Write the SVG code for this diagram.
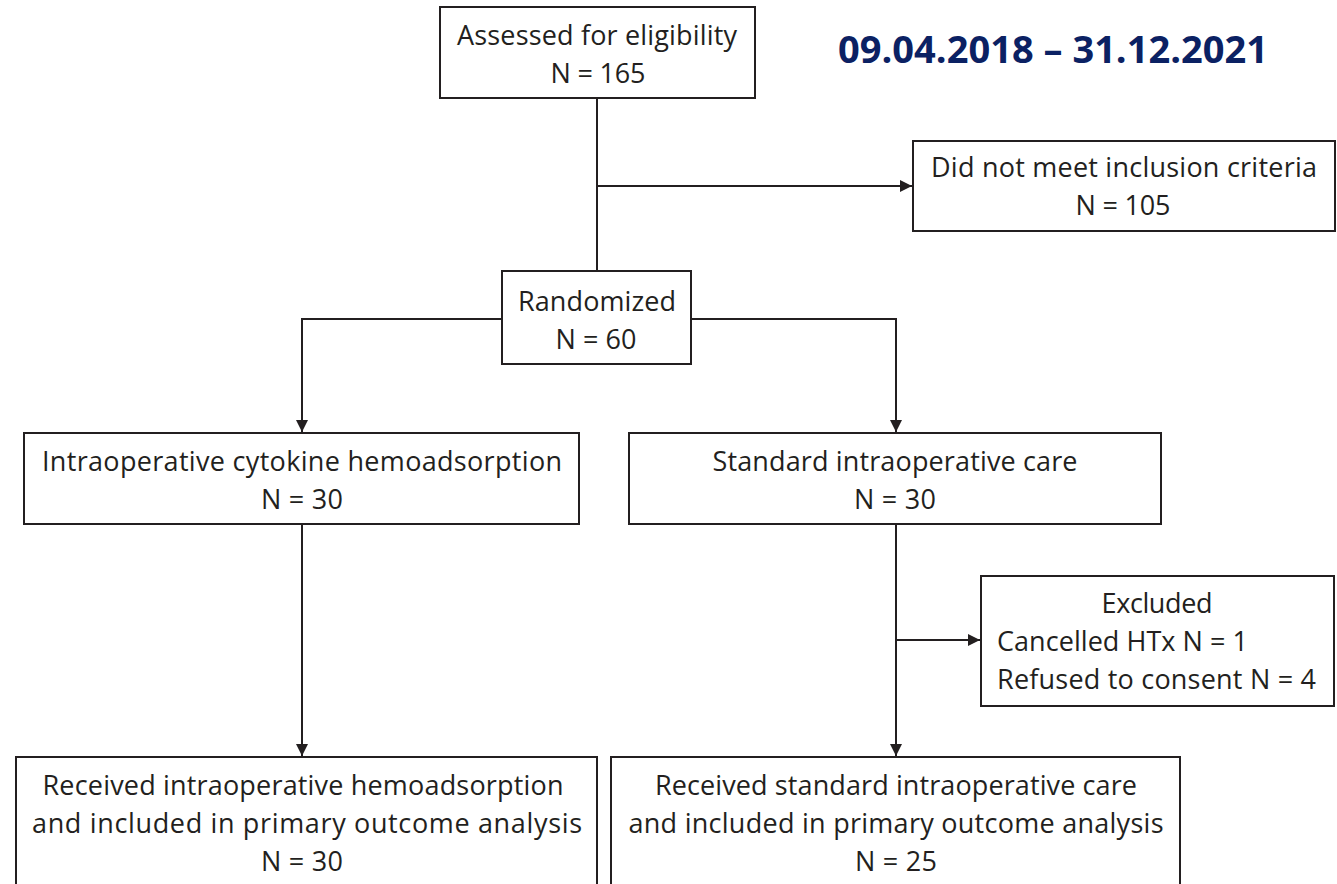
<svg xmlns="http://www.w3.org/2000/svg" width="1337" height="884" viewBox="0 0 1337 884">
<style>
.box{fill:#fff;stroke:#231f20;stroke-width:2}
.t{font-family:"Open Sans","Noto Sans",sans-serif;font-size:27px;fill:#231f20;text-anchor:middle}
.tl{font-family:"Open Sans","Noto Sans",sans-serif;font-size:27px;fill:#231f20;text-anchor:start}
.ln{fill:none;stroke:#231f20;stroke-width:2}
.date{font-family:"Open Sans","Noto Sans",sans-serif;font-size:38px;font-weight:bold;fill:#0b2163;text-anchor:middle}
</style>
<defs>
<marker id="ah" viewBox="0 0 10 10" refX="10" refY="5" markerWidth="6" markerHeight="6" markerUnits="strokeWidth" orient="auto">
<path d="M0,0 L10,5 L0,10 z" fill="#231f20"/>
</marker>
</defs>
<rect width="1337" height="884" fill="#fff"/>
<g id="connectors">
<path class="ln" d="M597,98 V271"/>
<path class="ln" d="M597,186 H912" marker-end="url(#ah)"/>
<path class="ln" d="M502,319 H302 V432" marker-end="url(#ah)"/>
<path class="ln" d="M691,319 H896 V432" marker-end="url(#ah)"/>
<path class="ln" d="M302,524 V756" marker-end="url(#ah)"/>
<path class="ln" d="M896,524 V756" marker-end="url(#ah)"/>
<path class="ln" d="M896,640 H980" marker-end="url(#ah)"/>
</g>
<g id="date"><text class="date" x="1053" y="63" textLength="430">09.04.2018 – 31.12.2021</text></g>
<g id="assessed">
<rect class="box" x="440" y="7" width="315" height="91"/>
<text class="t" x="597" y="45" textLength="280">Assessed for eligibility</text>
<text class="t" x="598" y="83" textLength="95">N = 165</text>
</g>
<g id="notmeet">
<rect class="box" x="913" y="141" width="422" height="90"/>
<text class="t" x="1124" y="177" textLength="386">Did not meet inclusion criteria</text>
<text class="t" x="1123" y="215" textLength="95">N = 105</text>
</g>
<g id="randomized">
<rect class="box" x="502" y="271" width="189" height="93"/>
<text class="t" x="597" y="311" textLength="158">Randomized</text>
<text class="t" x="596" y="349" textLength="81">N = 60</text>
</g>
<g id="hemo">
<rect class="box" x="24" y="433" width="555" height="91"/>
<text class="t" x="302" y="471" textLength="520">Intraoperative cytokine hemoadsorption</text>
<text class="t" x="302" y="509" textLength="82">N = 30</text>
</g>
<g id="standard">
<rect class="box" x="629" y="433" width="532" height="91"/>
<text class="t" x="895" y="471" textLength="365">Standard intraoperative care</text>
<text class="t" x="895" y="509" textLength="82">N = 30</text>
</g>
<g id="excluded">
<rect class="box" x="981" y="576" width="353" height="130"/>
<text class="t" x="1157" y="613" textLength="111">Excluded</text>
<text class="tl" x="997" y="651" textLength="251">Cancelled HTx N = 1</text>
<text class="tl" x="997" y="689" textLength="319">Refused to consent N = 4</text>
</g>
<g id="recv-hemo">
<rect class="box" x="16" y="757" width="581" height="140"/>
<text class="t" x="303" y="795" textLength="521">Received intraoperative hemoadsorption</text>
<text class="t" x="307" y="833" textLength="550">and included in primary outcome analysis</text>
<text class="t" x="302" y="871" textLength="82">N = 30</text>
</g>
<g id="recv-std">
<rect class="box" x="611" y="757" width="569" height="140"/>
<text class="t" x="896" y="795" textLength="482">Received standard intraoperative care</text>
<text class="t" x="896" y="833" textLength="535">and included in primary outcome analysis</text>
<text class="t" x="896" y="871" textLength="82">N = 25</text>
</g>
</svg>
